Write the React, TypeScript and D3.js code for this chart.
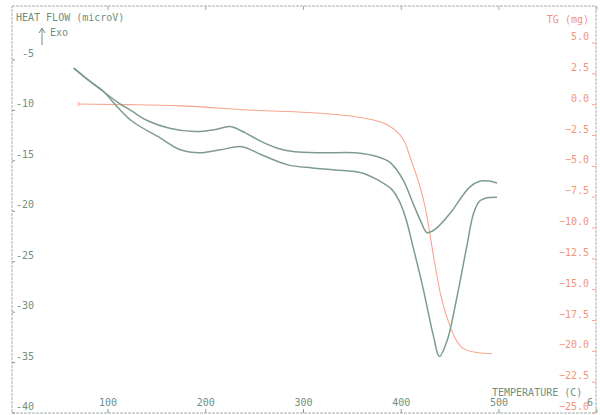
import * as d3 from "d3";

// DSC run 1 (shallower endotherm)
const tempUpper = [65, 80, 95, 110, 125, 140, 164, 189, 210, 225, 240, 257, 275, 291, 319, 353, 376, 389, 402, 412, 420, 426, 431, 437, 450, 470, 481, 490, 498];
const heatUpper = [-5.8, -7.0, -8.1, -9.2, -10.1, -11.0, -11.8, -12.1, -11.9, -11.6, -12.2, -13.1, -13.8, -14.1, -14.2, -14.2, -14.6, -15.2, -16.9, -19.2, -21.0, -22.1, -22.0, -21.6, -20.2, -17.6, -17.0, -17.0, -17.2];

// DSC run 2 (deep endotherm)
const tempLower = [65, 80, 95, 110, 125, 153, 174, 194, 215, 237, 257, 284, 309, 332, 360, 378, 390, 397, 404, 412, 422, 433, 439, 447, 457, 467, 474, 480, 486, 498];
const heatLower = [-5.8, -7.0, -8.1, -9.7, -11.1, -12.7, -13.9, -14.2, -13.9, -13.6, -14.4, -15.4, -15.7, -15.9, -16.2, -17.0, -17.8, -18.8, -20.5, -23.5, -27.5, -32.4, -34.4, -32.8, -28.5, -23.5, -20.2, -19.0, -18.7, -18.6];

// TG mass loss
const tempTg = [70, 120, 174, 243, 328, 361, 386, 397, 404, 409, 420, 425, 432, 440, 450, 457, 464, 478, 493];
const massTg = [0.05, 0.0, -0.1, -0.43, -0.76, -1.08, -1.65, -2.3, -3.1, -4.25, -6.9, -8.5, -11.8, -15.3, -18.0, -19.2, -19.8, -20.1, -20.2];

const heatTicks = [-5, -10, -15, -20, -25, -30, -35, -40];
const tgTicks = [5, 2.5, 0, -2.5, -5, -7.5, -10, -12.5, -15, -17.5, -20, -22.5, -25];
const tempTicks = [100, 200, 300, 400, 500, 600];
// the 600 label is cut by the frame in the original print, only its first digit shows
const tempLabels = ["100", "200", "300", "400", "500", "6"];

const W = 600;
const H = 415;
const frame = { left: 12, top: 6, right: 596, bottom: 413 };

const green = "#7e9c8c";
const greenText = "#6f8f7f";
const orange = "#f6a58e";
const orangeText = "#f39478";
const font = "'DejaVu Sans Mono', monospace";

export default function App() {
	const x = d3.scaleLinear().domain([100, 500]).range([108, 499]);
	const yHeat = d3.scaleLinear().domain([-5, -40]).range([60, 413]);
	const yTg = d3.scaleLinear().domain([5, -25]).range([43, 413]);

	const dscLine = d3
		.line<[number, number]>()
		.x((d) => x(d[0]))
		.y((d) => yHeat(d[1]))
		.curve(d3.curveCatmullRom.alpha(0.5));

	const tgLine = d3
		.line<[number, number]>()
		.x((d) => x(d[0]))
		.y((d) => yTg(d[1]))
		.curve(d3.curveMonotoneX);

	const upper = tempUpper.map((t, i) => [t, heatUpper[i]] as [number, number]);
	const lower = tempLower.map((t, i) => [t, heatLower[i]] as [number, number]);
	const tg = tempTg.map((t, i) => [t, massTg[i]] as [number, number]);

	const fmtTg = d3.format(".1f");

	return (
		<svg
			width={W}
			height={H}
			style={{ position: "absolute", left: 0, top: 0, display: "block", background: "#fff" }}
			fontFamily={font}
			fontSize={10}
		>
			{/* frame */}
			<rect
				x={frame.left}
				y={frame.top}
				width={frame.right - frame.left}
				height={frame.bottom - frame.top}
				fill="none"
				stroke="#a3aea6"
				strokeWidth={1}
				strokeDasharray="3,1"
			/>

			{/* left axis ticks */}
			{heatTicks.map((v) => (
				<g key={"h" + v}>
					<line x1={frame.left} x2={frame.left + 3} y1={yHeat(v)} y2={yHeat(v)} stroke={green} />
					<text x={34} y={yHeat(v) - 3} textAnchor="end" fill={greenText}>
						{v}
					</text>
				</g>
			))}

			{/* right axis ticks */}
			{tgTicks.map((v) => (
				<g key={"t" + v}>
					<line x1={frame.right - 4} x2={frame.right} y1={yTg(v)} y2={yTg(v)} stroke={orange} />
					<text x={589} y={yTg(v) - 3} textAnchor="end" fill={orangeText}>
						{fmtTg(v)}
					</text>
				</g>
			))}

			{/* bottom & top ticks */}
			{tempTicks.map((t, i) => (
				<g key={"x" + t}>
					<line x1={x(t)} x2={x(t)} y1={frame.bottom} y2={frame.bottom - 4} stroke={green} />
					<line x1={x(t)} x2={x(t)} y1={frame.top} y2={frame.top + 4} stroke="#a3aea6" />
					<text
						x={t === 600 ? 587 : x(t)}
						y={406}
						textAnchor={t === 600 ? "start" : "middle"}
						fill={greenText}
					>
						{tempLabels[i]}
					</text>
				</g>
			))}

			{/* axis titles */}
			<text x={16} y={21} fill={greenText}>HEAT FLOW (microV)</text>
			<text x={50} y={36} fill={greenText}>Exo</text>
			<line x1={42} x2={42} y1={29} y2={45} stroke={greenText} strokeWidth={1} />
			<path d="M39,33 L42,28 L45,33" fill="none" stroke={greenText} strokeWidth={1} />
			<text x={589} y={23} textAnchor="end" fill={orangeText}>TG (mg)</text>
			<text x={492} y={396} fill={greenText}>TEMPERATURE (C)</text>

			{/* curves */}
			<path d={tgLine(tg) ?? ""} fill="none" stroke={orange} strokeWidth={1.1} />
			<line
				x1={x(tempTg[0])}
				x2={x(tempTg[0])}
				y1={yTg(massTg[0]) - 2}
				y2={yTg(massTg[0]) + 2}
				stroke={orange}
			/>
			<path d={dscLine(upper) ?? ""} fill="none" stroke={green} strokeWidth={1.5} />
			<path d={dscLine(lower) ?? ""} fill="none" stroke={green} strokeWidth={1.5} />
		</svg>
	);
}
